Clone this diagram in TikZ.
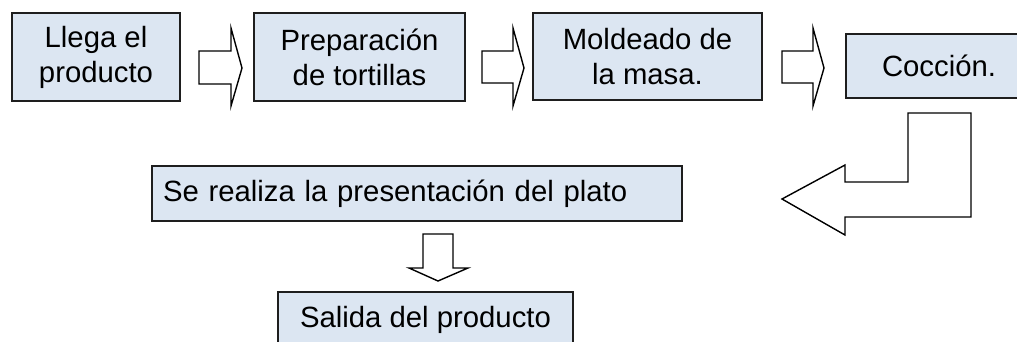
\documentclass[tikz,border=0pt]{standalone}
\usepackage{fontspec}
\setmainfont{Liberation Sans}
\definecolor{boxfill}{RGB}{220,230,242}
\definecolor{boxline}{RGB}{30,30,30}
\begin{document}
\begin{tikzpicture}[x=1pt,y=-1pt,
  stepbox/.style={draw=boxline, fill=boxfill, line width=1.3pt, inner sep=0pt,
    align=center, font=\fontsize{29.3}{35}\selectfont},
  blockarrow/.style={draw=black, fill=white, line width=1.4pt, line join=miter}]
\useasboundingbox (0,0) rectangle (1017,341);
\clip (0,0) rectangle (1017,341);
% top row boxes
\node[stepbox, minimum width=168pt, minimum height=88pt] (b1) at (96,57) {Llega el\\producto};
\node[stepbox, minimum width=211pt, minimum height=88pt] (b2) at (359.5,57) {Preparación\\de tortillas};
\node[stepbox, minimum width=229pt, minimum height=87pt] (b3) at (647.5,56.5) {Moldeado de\\la masa.};
\node[stepbox, minimum width=186pt, minimum height=64pt] (b4) at (939,66) {Cocción.};
% lower boxes
\node[stepbox, text width=508pt, inner xsep=11pt, align=left, minimum height=55pt] (b5) at (417,193.5) {Se realiza la presentación del plato};
\node[stepbox, minimum width=295pt, minimum height=55pt] (b6) at (425.5,319.5) {Salida del producto};
% block arrows between top boxes
\draw[blockarrow] (199,51) -- (231,51) -- (231,28) -- (242,68) -- (231,106) -- (231,84) -- (199,84) -- cycle;
\draw[blockarrow] (482,51) -- (513,51) -- (513,28) -- (524,68) -- (513,106) -- (513,83) -- (482,83) -- cycle;
\draw[blockarrow] (782,51) -- (813,51) -- (813,28) -- (824,68) -- (813,106) -- (813,83) -- (782,83) -- cycle;
% bent arrow from Coccion to presentation
\draw[blockarrow] (908,113) -- (971,113) -- (971,217) -- (845,217) -- (845,235) -- (782,199) -- (845,165) -- (845,182) -- (908,182) -- cycle;
% down arrow
\draw[blockarrow] (423,234) -- (453,234) -- (453,268) -- (468,268) -- (438,281) -- (409,268) -- (423,268) -- cycle;
\end{tikzpicture}
\end{document}
